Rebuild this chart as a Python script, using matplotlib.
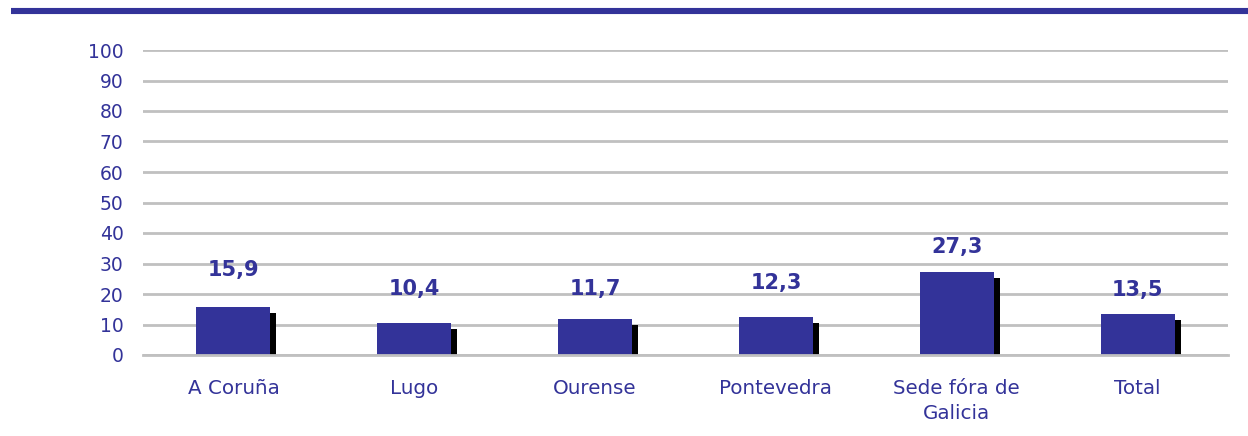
import matplotlib
matplotlib.use("Agg")
import matplotlib.pyplot as plt
from matplotlib.patches import Rectangle
from matplotlib.transforms import ScaledTranslation

categories = ["A Coruña", "Lugo", "Ourense", "Pontevedra", "Sede fóra de\nGalicia", "Total"]
values = [15.9, 10.4, 11.7, 12.3, 27.3, 13.5]
value_labels = ["15,9", "10,4", "11,7", "12,3", "27,3", "13,5"]
yticks = [0, 10, 20, 30, 40, 50, 60, 70, 80, 90, 100]

# label offsets above bar top (points), style only
label_offsets = [26, 25, 22, 25, 18, 17]

BLUE = "#333399"
GRID = "#c0c0c0"

fig = plt.figure(figsize=(12.48, 4.36), dpi=100)
ax = fig.add_axes([143/1248, 1 - 355/436, (1228-143)/1248, 305/436])

# top decorative rule
fig.add_artist(plt.Line2D([11/1248, 1.0], [1 - 11/436, 1 - 11/436], color=BLUE, lw=4.4,
                          transform=fig.transFigure, solid_capstyle="butt"))

x = range(len(categories))
width = 0.41
shadow_off = ScaledTranslation(6/100, -6/100, fig.dpi_scale_trans)
for i, v in enumerate(values):
    sh = Rectangle((i - width/2, 0), width, v, facecolor="black", edgecolor="none",
                   transform=ax.transData + shadow_off, zorder=2, clip_on=True)
    ax.add_patch(sh)
bars = ax.bar(list(x), values, width=width, color=BLUE, zorder=3)

# mask shadow below baseline
ax.add_patch(Rectangle((-0.5, -10), len(categories), 10, facecolor="white", edgecolor="none", zorder=2.5))

for i, (v, lab) in enumerate(zip(values, value_labels)):
    ax.annotate(lab, (i, v), xytext=(0, label_offsets[i]), textcoords="offset points",
                ha="center", va="center", color=BLUE, fontsize=15, fontweight="bold", zorder=4)

ax.set_ylim(0, 100)
ax.set_xlim(-0.5, len(categories) - 0.5)
ax.set_yticks(yticks)
ax.set_yticklabels([str(t) for t in yticks])
ax.set_xticks(list(x))
ax.set_xticklabels(categories)
ax.tick_params(axis="y", length=0, pad=14, labelsize=13.5, labelcolor=BLUE)
ax.tick_params(axis="x", length=0, pad=17, labelsize=14.3, labelcolor=BLUE)
for lab in ax.get_xticklabels():
    lab.set_linespacing(1.45)
ax.grid(axis="y", color=GRID, lw=2, zorder=0)
ax.set_axisbelow(True)
for s in ["top", "right", "left"]:
    ax.spines[s].set_visible(False)
ax.spines["bottom"].set_color(GRID)
ax.spines["bottom"].set_linewidth(2)
ax.spines["bottom"].set_zorder(5)

fig.savefig("out.png", dpi=100)
